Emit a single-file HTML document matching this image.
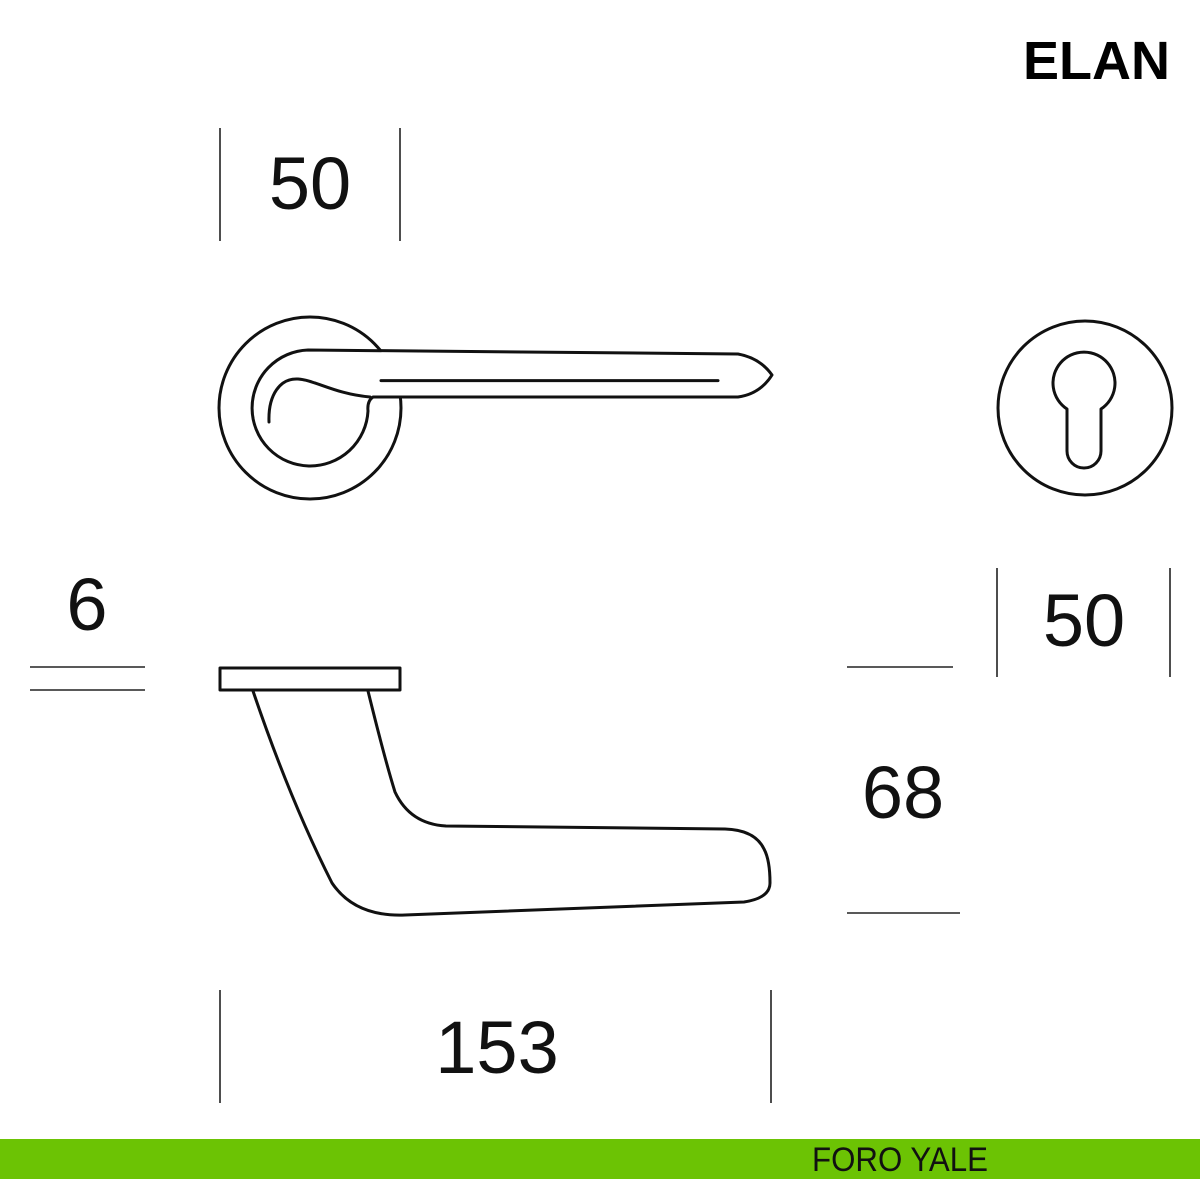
<!DOCTYPE html>
<html><head><meta charset="utf-8"><style>html,body{margin:0;padding:0;background:#fff}svg{display:block}</style></head>
<body>
<svg width="1200" height="1200" viewBox="0 0 1200 1200" xmlns="http://www.w3.org/2000/svg" font-family="Liberation Sans, sans-serif">
<rect width="1200" height="1200" fill="#fff"/>
<g stroke="#222" stroke-width="1.6">
<line x1="220" y1="128" x2="220" y2="241"/><line x1="400" y1="128" x2="400" y2="241"/>
<line x1="30" y1="667" x2="145" y2="667"/><line x1="30" y1="690" x2="145" y2="690"/>
<line x1="997" y1="568" x2="997" y2="677"/><line x1="1170" y1="568" x2="1170" y2="677"/>
<line x1="847" y1="667" x2="953" y2="667"/><line x1="847" y1="913" x2="960" y2="913"/>
<line x1="220" y1="990" x2="220" y2="1103"/><line x1="771" y1="990" x2="771" y2="1103"/>
</g>
<g fill="none" stroke="#111" stroke-width="3" stroke-linejoin="round" stroke-linecap="round">
<circle cx="310" cy="408" r="91"/>
<path fill="#fff" d="M368,411 A58,58 0 1 1 308,350 L738,354 Q760,358 772,375 Q760,394 738,397 L373,397 Q367,401 368,411 Z"/>
<path d="M269,422 C268,395 280,378 298,379 C315,380 335,394 370,397"/>
<line x1="381" y1="380.6" x2="718" y2="380.6"/>
<circle cx="1085" cy="408" r="87"/>
<path d="M1067,409 A31,31 0 1 1 1101,409 L1101,451 A17,17 0 0 1 1067,451 Z"/>
<rect x="220" y="668" width="180" height="22"/>
<path d="M253,691 Q290,800 332,883 Q355,917 405,915 L744,902 Q770,898 770,883 Q770,860 764,849 Q755,830 725,829 L446,826 Q410,824 395,792 Q385,760 368,691"/>
</g>
<g fill="#111" text-anchor="middle" font-size="74">
<text x="310" y="209">50</text>
<text x="87" y="630">6</text>
<text x="1084" y="646">50</text>
<text x="903" y="818">68</text>
<text x="497" y="1073">153</text>
</g>
<text x="1170" y="79" font-size="54" font-weight="bold" text-anchor="end" fill="#000">ELAN</text>
<rect x="0" y="1139" width="1200" height="40" fill="#6cc304"/>
<text x="812" y="1171" font-size="34" fill="#111" textLength="176" lengthAdjust="spacingAndGlyphs">FORO YALE</text>
</svg>
</body></html>
